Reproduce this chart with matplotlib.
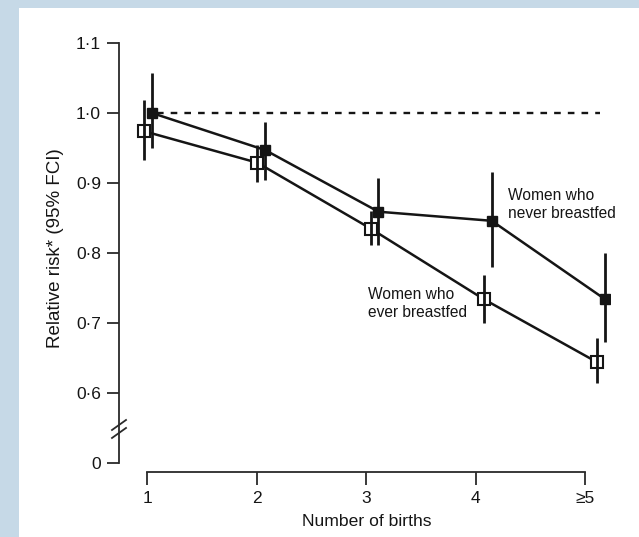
import matplotlib
matplotlib.use('Agg')
import matplotlib.pyplot as plt
import matplotlib.transforms as mtransforms
from matplotlib.patches import Rectangle

plt.rcParams['font.family'] = ['Liberation Sans', 'DejaVu Sans']

# data
births = [1, 2, 3, 4, 5]
birth_labels = ['1', '2', '3', '4', '\u22655']

never_rr = [1.000, 0.947, 0.859, 0.846, 0.734]
never_lo = [0.950, 0.905, 0.811, 0.780, 0.673]
never_hi = [1.057, 0.987, 0.907, 0.916, 0.800]

ever_rr = [0.974, 0.929, 0.835, 0.734, 0.644]
ever_lo = [0.933, 0.901, 0.811, 0.700, 0.614]
ever_hi = [1.019, 0.955, 0.860, 0.769, 0.679]

# "0" sits at 0.5 because of the axis break
ytick_vals = [0.5, 0.6, 0.7, 0.8, 0.9, 1.0, 1.1]
ytick_labels = ['0', '0\u00b76', '0\u00b77', '0\u00b78', '0\u00b79', '1\u00b70', '1\u00b71']

W, H = 639, 537
ink = '#151515'

fig = plt.figure(figsize=(W / 100, H / 100), dpi=100)
fig.patch.set_facecolor('#c6d9e7')
fig.patches.append(Rectangle((19 / W, 0), 1 - 19 / W, (H - 8) / H,
                             transform=fig.transFigure, facecolor='white',
                             edgecolor='none', zorder=-5))

# axes box in pixels: left spine at x=119, bottom axis at y=472
left, right, top, bot = 119, 610, 43, 472
rect = [left / W, (H - bot) / H, (right - left) / W, (bot - top) / H]

ax = fig.add_axes(rect)
ax.set_facecolor('none')
px_unit = 113.25          # pixels per birth step for the plotted data
ax.set_xlim(1 + (left - 148) / px_unit, 1 + (right - 148) / px_unit)
ax.set_ylim(1 - (bot - 113) / 700, 1.1)

dodge = 0.035
x_never = [b + dodge for b in births]
x_ever = [b - dodge for b in births]

ax.plot(x_never, never_rr, '-s', color=ink, lw=1.8, ms=6.5, mfc=ink, mec=ink, zorder=3)
ax.plot(x_ever, ever_rr, '-s', color=ink, lw=1.8, ms=9, mfc='white', mec=ink,
        mew=1.5, zorder=3)
# CI lines sit on top of the markers
ax.vlines(x_never, never_lo, never_hi, color=ink, lw=2.0, zorder=4)
ax.vlines(x_ever, ever_lo, ever_hi, color=ink, lw=2.0, zorder=4)

ax.plot([1.08, 4.99], [1.0, 1.0], color=ink, lw=1.7, dashes=(2.8, 3.0), zorder=2)

ax.text(4.18, 0.893, 'Women who\nnever breastfed', fontsize=11.2, color=ink,
        va='top', ha='left', linespacing=1.25)
ax.text(2.945, 0.751, 'Women who\never breastfed', fontsize=11.2, color=ink,
        va='top', ha='left', linespacing=1.25)

for s in ['top', 'right', 'bottom']:
    ax.spines[s].set_visible(False)
ax.spines['left'].set_bounds(0.5, 1.1)
ax.spines['left'].set_linewidth(1.3)
ax.spines['left'].set_color('#2a2a2a')
ax.set_xticks([])
ax.set_yticks(ytick_vals)
ax.set_yticklabels(ytick_labels)
ax.tick_params(axis='y', direction='out', length=9, width=1.3, pad=4,
               labelsize=12.5, colors='#2a2a2a', labelcolor=ink)

# axis break marks
btrans = mtransforms.blended_transform_factory(ax.transAxes, ax.transData)
dx, dy = 7 / (right - left), 5 / 700
for yc in [0.5543, 0.5429]:
    ax.plot([-dx, dx], [yc - dy, yc + dy], transform=btrans, color='#2a2a2a',
            lw=1.3, clip_on=False)

# separate x axis, slightly different spacing from the plotted points
axb = fig.add_axes(rect)
axb.set_facecolor('none')
axb.set_xlim(1 + (left - 147) / 109.5, 1 + (right - 147) / 109.5)
for s in ['top', 'right', 'left']:
    axb.spines[s].set_visible(False)
axb.spines['bottom'].set_bounds(1, 5)
axb.spines['bottom'].set_linewidth(1.3)
axb.spines['bottom'].set_color('#2a2a2a')
axb.set_yticks([])
axb.set_xticks(births)
axb.set_xticklabels(birth_labels)
axb.tick_params(axis='x', direction='out', length=9, width=1.3, pad=5,
                labelsize=12.5, colors='#2a2a2a', labelcolor=ink)

fig.text(367 / W, 1 - 521 / H, 'Number of births', ha='center', va='center',
         fontsize=12.6, color=ink)
fig.text(56 / W, 1 - 248 / H, 'Relative risk* (95% FCI)', ha='center',
         va='center', rotation=90, fontsize=13.5, color=ink)

fig.savefig('out.png', dpi=100, facecolor=fig.get_facecolor())
